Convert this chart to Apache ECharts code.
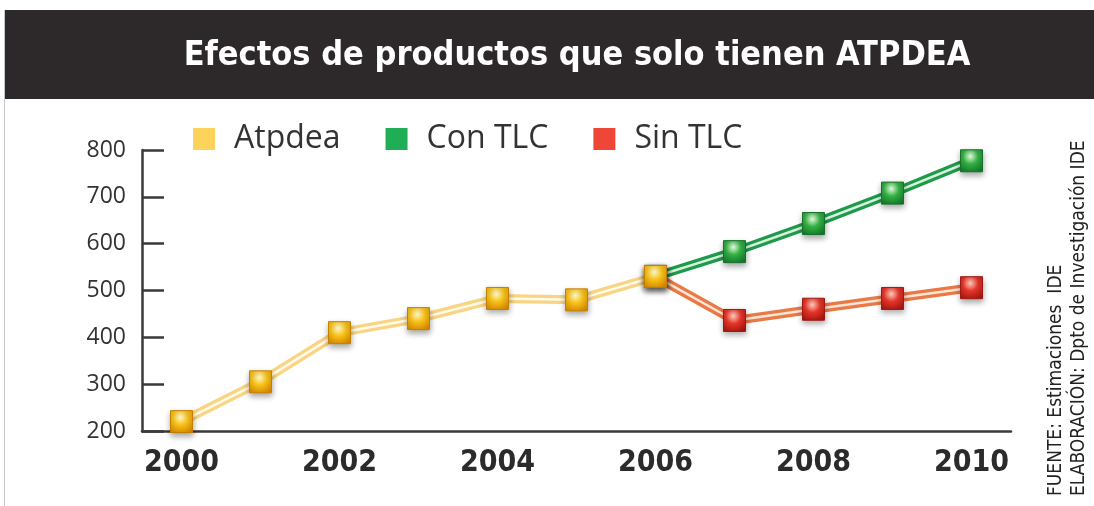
<!DOCTYPE html>
<html>
<head>
<meta charset="utf-8">
<script src="https://cdn.jsdelivr.net/npm/echarts@6/dist/echarts.min.js"></script>
<style>
  html, body { margin: 0; padding: 0; background: #fff; }
  #chart { width: 1094px; height: 506px; }
</style>
</head>
<body>
<div id="chart"></div>
<script>
// datos
var years = ['2000', '2001', '2002', '2003', '2004', '2005', '2006', '2007', '2008', '2009', '2010'];
var atpdea = [220, 305, 410, 440, 483, 480, 530, null, null, null, null];
var conTlc = [null, null, null, null, null, null, 530, 583, 643, 708, 777];
var sinTlc = [null, null, null, null, null, null, 530, 436, 460, 483, 506];
var yTicks = [200, 800, 100]; // min, max, paso

var myChart = echarts.init(document.getElementById('chart'));

function gloss(light, mid, dark) {
    return new echarts.graphic.RadialGradient(0.45, 0.3, 0.75, [
        { offset: 0, color: light },
        { offset: 0.45, color: mid },
        { offset: 1, color: dark }
    ]);
}

// cada serie: linea ancha + linea fina clara + marcadores
function group(name, data, outer, inner, marker, border) {
    return [{
        name: name, type: 'line', data: data, showSymbol: false, silent: true, z: 2,
        lineStyle: { color: outer, width: 9 }
    }, {
        name: name, type: 'line', data: data, showSymbol: false, silent: true, z: 3,
        lineStyle: { color: inner, width: 2.5 }
    }, {
        name: name, type: 'line', data: data, z: 4,
        lineStyle: { width: 0, opacity: 0 },
        symbol: 'rect', symbolSize: 22,
        itemStyle: {
            color: marker, borderColor: border, borderWidth: 1,
            shadowColor: 'rgba(0,0,0,0.35)', shadowBlur: 6, shadowOffsetY: 3
        }
    }];
}

var series = [].concat(
    group('Con TLC', conTlc, '#1f9a4c', '#d6f3dc', gloss('#e8ffe0', '#33b043', '#137a2c'), '#18702a'),
    group('Sin TLC', sinTlc, '#ea7a45', '#fde6d8', gloss('#ffd0c0', '#e5352a', '#a8160f'), '#9c1a14'),
    group('Atpdea', atpdea, '#f8d584', '#fffbea', gloss('#fffbd0', '#f7c21a', '#d98a00'), '#c57f00')
);

var option = {
    animation: false,
    legend: {
        left: 188, top: 118,
        itemWidth: 22, itemHeight: 22, itemGap: 45,
        icon: 'rect',
        textStyle: { fontFamily: 'Open Sans', fontSize: 32, color: '#333', padding: [0, 0, 0, 14] },
        data: [
            { name: 'Atpdea', itemStyle: { color: '#fdd35c' } },
            { name: 'Con TLC', itemStyle: { color: '#1fae55' } },
            { name: 'Sin TLC', itemStyle: { color: '#ee4637' } }
        ]
    },
    grid: { left: 142, right: 83, top: 150, bottom: 75 },
    xAxis: {
        type: 'category', data: years, boundaryGap: true,
        axisLine: { lineStyle: { color: '#3a3a3a', width: 2.5 } },
        axisTick: { inside: true, length: 8, interval: 0, lineStyle: { color: '#3a3a3a', width: 2 } },
        axisLabel: {
            interval: 1, margin: 17, color: '#2b2b2b',
            fontFamily: 'DejaVu Sans Condensed', fontWeight: 'bold', fontSize: 30
        }
    },
    yAxis: {
        type: 'value', min: yTicks[0], max: yTicks[1], interval: yTicks[2],
        splitLine: { show: false },
        axisLine: { show: true, lineStyle: { color: '#3a3a3a', width: 2.5 } },
        axisTick: { show: true, inside: true, length: 22, lineStyle: { color: '#3a3a3a', width: 2.5 } },
        axisLabel: { margin: 16, color: '#333', fontFamily: 'Open Sans', fontSize: 23 }
    },
    graphic: [
        { type: 'rect', shape: { x: 5, y: 10, width: 1089, height: 89 }, style: { fill: '#2d2829' }, z: 0 },
        { type: 'rect', shape: { x: 4, y: 10, width: 1, height: 496 }, style: { fill: '#c8c8d0' }, z: 0 },
        {
            type: 'text', x: 577, y: 56, z: 1,
            style: {
                text: 'Efectos de productos que solo tienen ATPDEA',
                fill: '#fff', font: 'bold 34px "DejaVu Sans Condensed"',
                textAlign: 'center', textVerticalAlign: 'middle'
            }
        },
        {
            type: 'text', x: 1056, y: 496, rotation: Math.PI / 2, z: 1,
            style: {
                text: 'FUENTE: Estimaciones  IDE',
                fill: '#222', font: '19px "DejaVu Sans Condensed"',
                textAlign: 'left', textVerticalAlign: 'middle'
            }
        },
        {
            type: 'text', x: 1079, y: 496, rotation: Math.PI / 2, z: 1,
            style: {
                text: 'ELABORACIÓN: Dpto de Investigación IDE',
                fill: '#222', font: '19px "DejaVu Sans Condensed"',
                textAlign: 'left', textVerticalAlign: 'middle'
            }
        }
    ],
    series: series
};

myChart.setOption(option);
</script>
</body>
</html>
